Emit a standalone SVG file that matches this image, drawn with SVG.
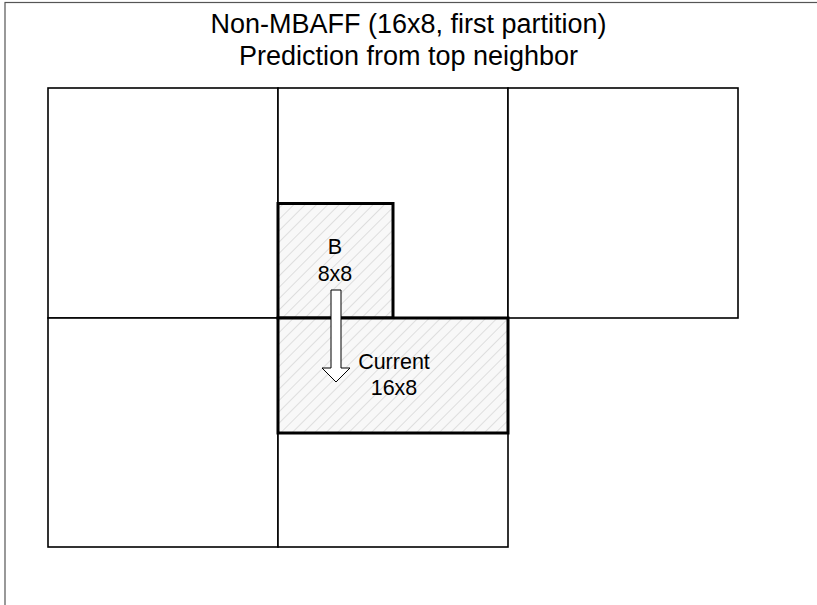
<svg xmlns="http://www.w3.org/2000/svg" width="817" height="605" viewBox="0 0 817 605">
  <defs>
    <pattern id="hatch" patternUnits="userSpaceOnUse" width="8" height="8" patternTransform="rotate(45)">
      <rect width="8" height="8" fill="#f8f8f8"/>
      <line x1="0" y1="0" x2="0" y2="8" stroke="#d8d8d8" stroke-width="1.6"/>
    </pattern>
  </defs>
  <style>
    .cell { fill: #ffffff; stroke: #000000; stroke-width: 1.6; }
    .bold { fill: url(#hatch); stroke: #000000; stroke-width: 3; }
    .title { font-family: "Liberation Sans", Arial, sans-serif; font-size: 27px; fill: #000000; text-anchor: middle; }
    .lbl { font-family: "Liberation Sans", Arial, sans-serif; font-size: 21.5px; fill: #000000; text-anchor: middle; }
    .frame { fill: none; stroke: #555555; stroke-width: 1.2; }
    .arrow { fill: #ffffff; stroke: #000000; stroke-width: 1; }
  </style>
  <rect width="817" height="605" fill="#ffffff"/>
  <rect class="frame" x="5" y="2.5" width="830" height="620"/>
  <g id="title">
    <text class="title" x="408.5" y="33">Non-MBAFF (16x8, first partition)</text>
    <text class="title" x="408.5" y="65">Prediction from top neighbor</text>
  </g>
  <g id="cell-top-left"><rect class="cell" x="48" y="88" width="230" height="230"/></g>
  <g id="cell-top-middle"><rect class="cell" x="278" y="88" width="230" height="230"/></g>
  <g id="cell-top-right"><rect class="cell" x="508" y="88" width="230" height="230"/></g>
  <g id="cell-bottom-left"><rect class="cell" x="48" y="318" width="230" height="229"/></g>
  <g id="cell-bottom-middle"><rect class="cell" x="278" y="433" width="230" height="114"/></g>
  <g id="block-B">
    <rect class="bold" x="278" y="203.5" width="115" height="114.5"/>
    <text class="lbl" x="335" y="254">B</text>
    <text class="lbl" x="335" y="281">8x8</text>
  </g>
  <g id="block-current">
    <rect class="bold" x="278" y="318" width="230" height="115"/>
    <text class="lbl" x="394" y="369">Current</text>
    <text class="lbl" x="394" y="395">16x8</text>
  </g>
  <g id="connectors">
    <polygon class="arrow" points="331,290 341,290 341,368 350,368 336,382 322,368 331,368"/>
  </g>
</svg>
